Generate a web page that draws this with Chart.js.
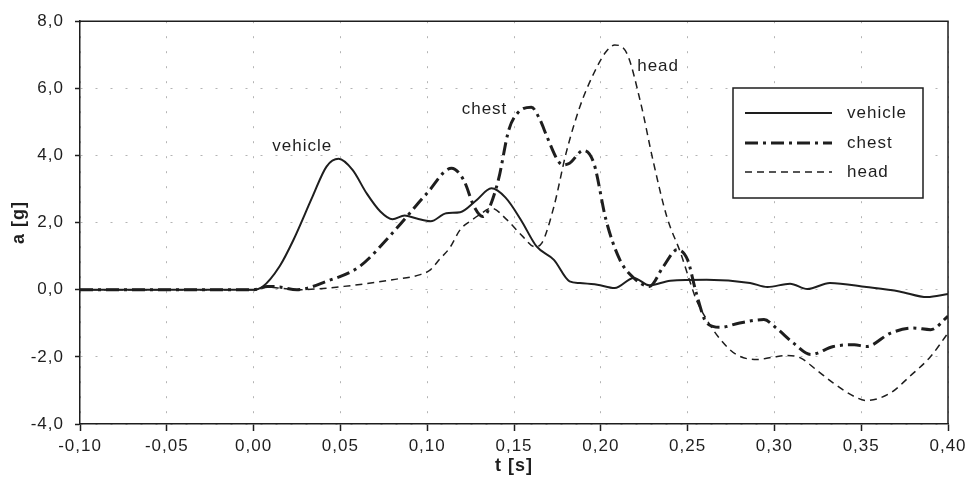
<!DOCTYPE html>
<html>
<head>
<meta charset="utf-8">
<script src="https://cdn.jsdelivr.net/npm/chart.js@4/dist/chart.umd.min.js"></script>
<style>
  html, body { margin: 0; padding: 0; background: #fff; }
  #wrap { width: 974px; height: 484px; }
</style>
</head>
<body>
<div id="wrap"><canvas id="accChart" width="974" height="484"></canvas></div>
<script>
// time axis [s] and acceleration [g]
var tVehicle = [-0.10, 0.000, 0.005, 0.015, 0.023, 0.034, 0.042, 0.049, 0.057, 0.065, 0.073, 0.080, 0.087, 0.094, 0.102, 0.111, 0.119, 0.128, 0.137, 0.145, 0.154, 0.163, 0.173, 0.182, 0.188, 0.198, 0.208, 0.219, 0.228, 0.240, 0.261, 0.286, 0.296, 0.309, 0.319, 0.332, 0.353, 0.372, 0.388, 0.40];
var aVehicle = [0, 0, 0.08, 0.7, 1.49, 2.78, 3.67, 3.9, 3.57, 2.88, 2.33, 2.10, 2.21, 2.12, 2.04, 2.28, 2.31, 2.65, 3.02, 2.75, 2.08, 1.29, 0.89, 0.25, 0.2, 0.15, 0.05, 0.35, 0.13, 0.27, 0.30, 0.2, 0.08, 0.18, 0.02, 0.2, 0.08, -0.05, -0.22, -0.13];

var tChest = [-0.10, 0.000, 0.008, 0.015, 0.025, 0.042, 0.061, 0.080, 0.100, 0.114, 0.121, 0.127, 0.132, 0.135, 0.141, 0.147, 0.152, 0.160, 0.165, 0.169, 0.175, 0.178, 0.182, 0.190, 0.196, 0.203, 0.211, 0.219, 0.228, 0.236, 0.244, 0.250, 0.255, 0.261, 0.269, 0.280, 0.294, 0.301, 0.311, 0.321, 0.334, 0.346, 0.353, 0.367, 0.380, 0.390, 0.40];
var aChest = [0, 0, 0.1, 0.08, 0.0, 0.25, 0.69, 1.69, 2.88, 3.62, 3.27, 2.48, 2.18, 2.35, 3.27, 4.76, 5.26, 5.44, 5.06, 4.56, 3.87, 3.72, 3.77, 4.15, 3.77, 2.08, 0.89, 0.35, 0.1, 0.69, 1.19, 0.89, -0.1, -0.99, -1.12, -0.99, -0.89, -1.14, -1.59, -1.93, -1.69, -1.64, -1.69, -1.29, -1.14, -1.19, -0.79];

var tHead = [-0.10, 0.000, 0.008, 0.015, 0.025, 0.052, 0.080, 0.096, 0.102, 0.107, 0.113, 0.119, 0.125, 0.130, 0.137, 0.146, 0.155, 0.162, 0.166, 0.173, 0.180, 0.188, 0.196, 0.203, 0.208, 0.215, 0.223, 0.230, 0.238, 0.246, 0.251, 0.255, 0.261, 0.269, 0.278, 0.290, 0.300, 0.307, 0.315, 0.324, 0.334, 0.346, 0.353, 0.367, 0.378, 0.390, 0.40];
var aHead = [0, 0, 0.08, 0.05, 0.0, 0.1, 0.3, 0.45, 0.6, 0.9, 1.25, 1.79, 2.05, 2.23, 2.43, 2.08, 1.59, 1.28, 1.39, 2.48, 4.07, 5.46, 6.45, 7.09, 7.29, 7.04, 5.56, 3.87, 2.18, 1.09, 0.3, -0.3, -0.89, -1.49, -1.93, -2.08, -2.0, -1.96, -2.03, -2.38, -2.78, -3.18, -3.30, -3.07, -2.58, -1.99, -1.29];

var seriesNames = ["vehicle", "chest", "head"];
// curve labels placed inside the plot (t, a)
var noteText = ["vehicle", "chest", "head"];
var noteT = [0.028, 0.133, 0.233];
var noteA = [4.26, 5.38, 6.67];

var FONT = "'Liberation Sans', Arial, sans-serif";
var INK = "#1e1e1e";

function toPoints(ts, as) {
  var pts = [];
  for (var i = 0; i < ts.length; i++) {
    pts.push({ x: ts[i], y: as[i] });
  }
  return pts;
}

function fmt(v, d) {
  return Number(v).toFixed(d).replace(".", ",");
}

// the scanned lettering is a bit wider than Liberation Sans
var spacingPlugin = {
  id: "spacing",
  beforeLayout: function (chart) { chart.ctx.letterSpacing = "1px"; },
  beforeDraw: function (chart) { chart.ctx.letterSpacing = "1px"; }
};

// frame on top/right + curve labels + boxed legend
var extrasPlugin = {
  id: "extras",
  afterDatasetsDraw: function (chart) {
    var ctx = chart.ctx;
    var area = chart.chartArea;
    var xs = chart.scales.x;
    var ys = chart.scales.y;

    ctx.save();
    ctx.strokeStyle = INK;
    ctx.lineWidth = 1.5;
    ctx.beginPath();
    ctx.moveTo(area.left, area.top);
    ctx.lineTo(area.right, area.top);
    ctx.lineTo(area.right, area.bottom);
    ctx.stroke();

    ctx.fillStyle = INK;
    ctx.font = "17px " + FONT;
    ctx.textAlign = "center";
    ctx.textBaseline = "middle";
    for (var i = 0; i < noteText.length; i++) {
      ctx.fillText(noteText[i], xs.getPixelForValue(noteT[i]), ys.getPixelForValue(noteA[i]));
    }

    // legend box
    var bx = 733, by = 88, bw = 190, bh = 110;
    ctx.fillStyle = "#fff";
    ctx.fillRect(bx, by, bw, bh);
    ctx.strokeStyle = INK;
    ctx.lineWidth = 1.5;
    ctx.strokeRect(bx, by, bw, bh);

    var rows = [113, 143, 172];
    chart.data.datasets.forEach(function (ds, k) {
      ctx.strokeStyle = ds.borderColor;
      ctx.lineWidth = ds.borderWidth;
      ctx.setLineDash(ds.borderDash || []);
      ctx.beginPath();
      ctx.moveTo(745, rows[k]);
      ctx.lineTo(832, rows[k]);
      ctx.stroke();
      ctx.setLineDash([]);
      ctx.fillStyle = INK;
      ctx.textAlign = "left";
      ctx.fillText(ds.label, 847, rows[k]);
    });
    ctx.restore();
  }
};

function gridStyle(len) {
  return {
    color: "#b4b4b4",
    lineWidth: 1,
    drawTicks: true,
    tickLength: len,
    tickColor: INK,
    tickWidth: 1.5,
    tickBorderDash: []
  };
}

new Chart(document.getElementById("accChart"), {
  type: "line",
  data: {
    datasets: [
      {
        label: seriesNames[0],
        data: toPoints(tVehicle, aVehicle),
        borderColor: INK,
        borderWidth: 2,
        borderDash: [],
        pointRadius: 0,
        cubicInterpolationMode: "monotone"
      },
      {
        label: seriesNames[1],
        data: toPoints(tChest, aChest),
        borderColor: INK,
        borderWidth: 3,
        borderDash: [13, 5, 3, 5],
        pointRadius: 0,
        cubicInterpolationMode: "monotone"
      },
      {
        label: seriesNames[2],
        data: toPoints(tHead, aHead),
        borderColor: INK,
        borderWidth: 1.5,
        borderDash: [7, 5],
        pointRadius: 0,
        cubicInterpolationMode: "monotone"
      }
    ]
  },
  options: {
    responsive: false,
    animation: false,
    layout: { padding: { top: 21, right: 26, left: 0, bottom: 0 } },
    plugins: {
      legend: { display: false },
      tooltip: { enabled: false }
    },
    scales: {
      x: {
        type: "linear",
        min: -0.1,
        max: 0.4,
        afterFit: function (scale) { scale.height = 60; },
        ticks: {
          stepSize: 0.05,
          color: INK,
          padding: 5,
          maxRotation: 0,
          font: { family: FONT, size: 17 },
          callback: function (v) { return fmt(v, 2); }
        },
        grid: gridStyle(7),
        border: { display: true, color: INK, width: 1.5, dash: [2, 13] },
        title: {
          display: true,
          text: "t [s]",
          color: INK,
          font: { family: FONT, size: 18, weight: "bold" },
          padding: { top: 0, bottom: 7 }
        }
      },
      y: {
        min: -4,
        max: 8,
        afterFit: function (scale) { scale.width = 80; },
        ticks: {
          stepSize: 2,
          color: INK,
          padding: 11,
          font: { family: FONT, size: 17 },
          callback: function (v) { return fmt(v, 1); }
        },
        grid: gridStyle(5),
        border: { display: true, color: INK, width: 1.5, dash: [2, 13] },
        title: {
          display: true,
          text: "a [g]",
          color: INK,
          font: { family: FONT, size: 18, weight: "bold" },
          padding: { top: 8, bottom: 0 }
        }
      }
    }
  },
  plugins: [spacingPlugin, extrasPlugin]
});
</script>
</body>
</html>
